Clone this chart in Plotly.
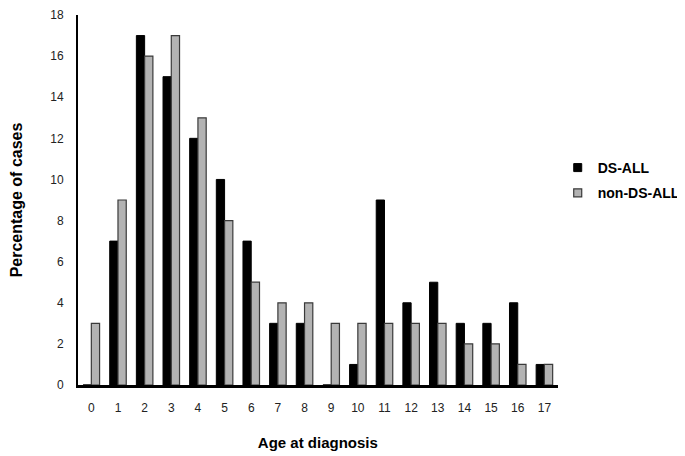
import plotly.graph_objects as go

ages = [str(i) for i in range(18)]
ds_all = [0, 7, 17, 15, 12, 10, 7, 3, 3, 0, 1, 9, 4, 5, 3, 3, 4, 1]
non_ds_all = [3, 9, 16, 17, 13, 8, 5, 4, 4, 3, 3, 3, 3, 3, 2, 2, 1, 1]
y_ticks = list(range(0, 19, 2))

black = "#000000"
grey = "#b3b3b3"
grey_edge = "#3a3a3a"

fig = go.Figure()
fig.add_trace(go.Bar(x=ages, y=ds_all, name="DS-ALL", showlegend=False,
                     marker=dict(color=black, line=dict(color=black, width=1))))
fig.add_trace(go.Bar(x=ages, y=non_ds_all, name="non-DS-ALL", showlegend=False,
                     marker=dict(color=grey, line=dict(color=grey_edge, width=1.2))))

# legend entries with small square swatches, like the original figure
fig.add_trace(go.Scatter(x=[None], y=[None], mode="markers", name="DS-ALL", legendgroup="a",
                         marker=dict(symbol="square", size=8, color=black,
                                     line=dict(color=black, width=1))))
fig.add_trace(go.Scatter(x=[None], y=[None], mode="markers", name="non-DS-ALL", legendgroup="b",
                         marker=dict(symbol="square", size=8, color=grey,
                                     line=dict(color=grey_edge, width=1.2))))

# page body adds an 8px offset, so the figure is 8px smaller than the window
fig.update_layout(
    width=677, height=448,
    margin=dict(l=70, r=126, t=7, b=71),
    plot_bgcolor="white", paper_bgcolor="white",
    barmode="group", bargap=0.38, bargroupgap=0,
    font=dict(family="Liberation Sans, Arial", size=12, color="#222"),
    showlegend=True,
    legend=dict(xref="container", yref="container", x=0.812, y=0.615,
                xanchor="left", yanchor="middle",
                font=dict(size=14, color="#000", weight="bold"), tracegroupgap=4,
                itemwidth=30),
    xaxis=dict(
        range=[-0.5, 17.5], showline=True, linecolor="#000", linewidth=2.5,
        ticks="", showgrid=False, tickfont=dict(size=12, color="#222"),
        ticklabelstandoff=10, automargin=False, layer="above traces",
        title=dict(text="<b>Age at diagnosis</b>", font=dict(size=15, color="#000"), standoff=24),
    ),
    yaxis=dict(
        range=[0, 18], tickvals=y_ticks, showline=True, linecolor="#000", linewidth=2,
        ticks="", showgrid=False, zeroline=False, tickfont=dict(size=12, color="#222"),
        ticklabelstandoff=10, automargin=False, ticklabeloverflow="allow",
        title=dict(text="<b>Percentage of cases</b>", font=dict(size=16, color="#000"), standoff=29),
    ),
)

fig.write_html("out.html")
